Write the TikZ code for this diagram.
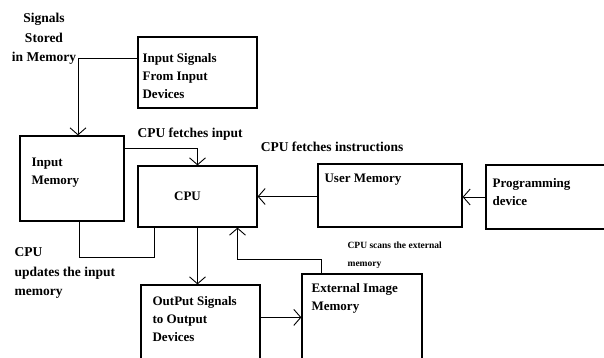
\documentclass[tikz,border=0pt]{standalone}
\usepackage{fontspec}
\setmainfont{Liberation Serif}
\usetikzlibrary{positioning, arrows.meta, calc}

\begin{document}
\begin{tikzpicture}[
  x=1pt, y=-1pt,
  box/.style={draw, line width=1.2pt, inner sep=0pt},
  txt/.style={inner sep=0pt, align=left, font=\fontsize{13}{18}\selectfont\bfseries},
  lbl/.style={inner sep=0pt, align=left, font=\fontsize{13.5}{19.5}\selectfont\bfseries},
  arr/.style={-{Straight Barb[length=7pt, width=16pt, line width=0.9pt]}, line width=1pt},
  line/.style={line width=1pt},
]

\useasboundingbox (0,0) rectangle (604,358);
\clip (0,0) rectangle (604,358);

% Boxes
\node[box, minimum width=119pt, minimum height=71pt] (insig) at (197.5,72.5) {};
\node[box, minimum width=104pt, minimum height=85pt] (inmem) at (72,178.5) {};
\node[box, minimum width=119pt, minimum height=61pt] (cpu) at (197.5,196.5) {};
\node[box, minimum width=144pt, minimum height=63pt] (usermem) at (390,195.5) {};
\node[box, minimum width=134pt, minimum height=64pt] (progdev) at (553,197) {};
\node[box, minimum width=120pt, minimum height=96pt] (extmem) at (362,322) {};
\node[box, minimum width=119pt, minimum height=85pt] (outsig) at (200.5,327.5) {};

% Texts inside the boxes
\node[txt, below right=17pt and 5pt of insig.north west] (insigtxt)
  {Input Signals\\From Input\\Devices};
\node[txt, below right=22pt and 12pt of inmem.north west] (inmemtxt)
  {Input\\Memory};
\node[txt, xshift=-10pt] (cputxt) at (cpu) {CPU};
\node[txt, below right=10pt and 7pt of usermem.north west] (usermemtxt)
  {User Memory};
\node[txt, below right=14pt and 7pt of progdev.north west] (progdevtxt)
  {Programming\\device};
\node[txt, below right=10pt and 10pt of extmem.north west] (extmemtxt)
  {External Image\\Memory};
\node[txt, below right=12pt and 12pt of outsig.north west] (outsigtxt)
  {OutPut Signals\\to Output\\Devices};

% Connector labels
\node[lbl, align=center] (stored) at (44,39)
  {Signals\\Stored\\in Memory};
\node[lbl, above right=25pt and 0pt of cpu.north west] (fetchin)
  {CPU fetches input};
\node[lbl, above right=14pt and 3pt of cpu.north east] (fetchins)
  {CPU fetches instructions};
\node[lbl, font=\fontsize{9.5}{18}\selectfont\bfseries,
      below right=14pt and 30pt of usermem.south west] (scans)
  {CPU scans the external\\memory};
\node[lbl, below right=26pt and -5pt of inmem.south west] (updates)
  {CPU\\updates the input\\memory};

% Bend points
\coordinate (sigout) at ($(insig.north west)+(0,22)$);
\coordinate (inmemtop) at ($(inmem.north)+(6,0)$);
\coordinate (inmemout) at ($(inmem.north east)+(0,13)$);
\coordinate (inmembot) at ($(inmem.south)+(7,0)$);
\coordinate (upd) at ($(cpu.south west)+(17,30)$);
\coordinate (scanbend) at ($(cpu.south)+(40,32)$);
\coordinate (extup) at ($(extmem.north west)+(20,0)$);
\coordinate (outsigout) at ($(outsig.north east)+(0,33)$);

% Arrows
\draw[arr] (sigout) -| (inmemtop);
\draw[arr] (inmemout) -| (cpu.north);
\draw[arr] (usermem.west |- cpu) -- (cpu.east);
\draw[arr] (progdev.west) -- (progdev.west -| usermem.east);
\draw[arr] (cpu.south) -- (cpu.south |- outsig.north);
\draw[arr] (outsigout) -- (outsigout -| extmem.west);
\draw[arr] (extup) |- (scanbend) -- (scanbend |- cpu.south);
\draw[line] (inmembot) |- (upd) -- (upd |- cpu.south);

\end{tikzpicture}
\end{document}
